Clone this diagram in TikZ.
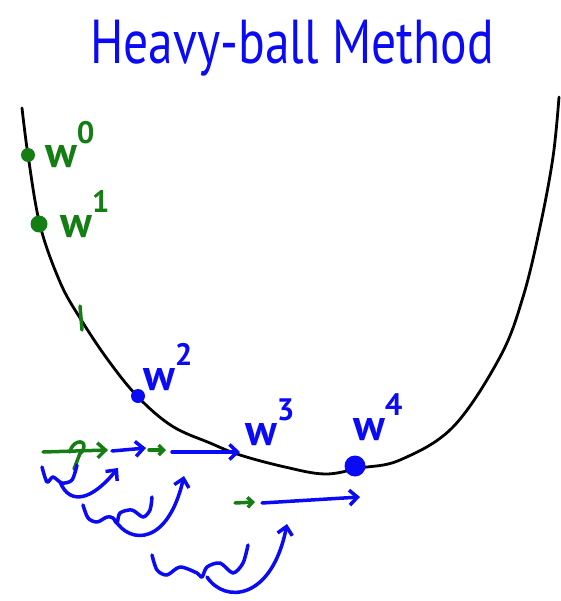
\documentclass[tikz,border=0pt]{standalone}
\usepackage{fontspec}
\setmainfont{PT Sans}
\usetikzlibrary{arrows.meta}
\definecolor{penblue}{RGB}{10,10,245}
\definecolor{pengreen}{RGB}{20,125,20}
\tikzset{
  curve/.style={black,line width=2.8pt,line cap=round,line join=round},
  bluepen/.style={penblue,line width=3.5pt,line cap=round,line join=round},
  greenpen/.style={pengreen,line width=3.5pt,line cap=round,line join=round},
  pendot/.style={circle,fill,inner sep=0pt,minimum size=#1},
  wlabel/.style={font=\fontsize{44}{44}\selectfont\bfseries,inner sep=0pt,anchor=base west},
}
\newcommand{\wsup}[1]{w\raisebox{0.55em}{\fontsize{31}{31}\selectfont #1}}
\begin{document}
\begin{tikzpicture}[x=1pt,y=-1pt,>={Straight Barb[length=8pt,width=15pt]}]
\useasboundingbox (0,0) rectangle (560,601);
\node (title) at (292,48) [penblue,font=\fontsize{62}{62}\selectfont] {\scalebox{0.8}[1]{Heavy-ball Method}};
% the valley
\draw[curve] plot[smooth,tension=0.6] coordinates {(22,108) (28,155) (40,225) (60,282) (80,318) (108,360) (138,397) (172,426) (210,443) (240,455) (285,467) (325,474) (360,468) (400,460) (453,427) (500,357) (523,297) (540,227) (553,157) (559,97)};
% iterates
\node (w0) at (28,155) [pendot=14pt,pengreen] {};
\node (w1) at (39,224) [pendot=17pt,pengreen] {};
\node (w2) at (138,396) [pendot=14pt,penblue] {};
\node (w4) at (355,466) [pendot=21pt,penblue] {};
\draw[greenpen] (80,306) -- (82,330);
\node (lab0) at (45,168) [wlabel,pengreen] {\wsup{0}};
\node (lab1) at (60,237) [wlabel,pengreen] {\wsup{1}};
\node (lab2) at (143,390) [wlabel,penblue] {\wsup{2}};
\node (lab3) at (245,445) [wlabel,penblue] {\wsup{3}};
\node (lab4) at (353,440) [wlabel,penblue] {\wsup{4}};
% steps along the bottom
\draw[greenpen,->] (43,452) -- (108,450);
\draw[greenpen] (70,452) .. controls (72,441) and (84,439) .. (84,446) .. controls (84,452) and (79,453) .. (79,456) -- (74,469);
\draw[bluepen,->] (112,451) -- (146,448);
\draw[greenpen,-{Straight Barb[length=5pt,width=10pt]}] (149,450) -- (166,450);
\draw[bluepen,->] (172,452) -- (240,452);
\draw[greenpen,-{Straight Barb[length=5pt,width=10pt]}] (235,503) -- (255,502);
\draw[bluepen,->] (262,503) -- (360,497);
% momentum swings
\draw[bluepen] plot[smooth] coordinates {(42,467) (47,482) (53,477) (62,483) (72,480) (77,465)};
\draw[bluepen,->] (60,482) .. controls (70,506) and (92,500) .. (118,468);
\draw[bluepen] plot[smooth] coordinates {(83,505) (88,518) (97,522) (107,517) (113,518) (117,523) (120,513) (132,510) (143,517) (150,510) (152,497)};
\draw[bluepen,->] (115,520) .. controls (130,545) and (168,545) .. (184,476);
\draw[bluepen] plot[smooth] coordinates {(152,555) (157,570) (167,575) (180,567) (197,573) (202,577) (207,567) (220,563) (233,573) (243,563) (248,545)};
\draw[bluepen,->] (207,577) .. controls (225,604) and (272,600) .. (287,524);
\end{tikzpicture}
\end{document}
